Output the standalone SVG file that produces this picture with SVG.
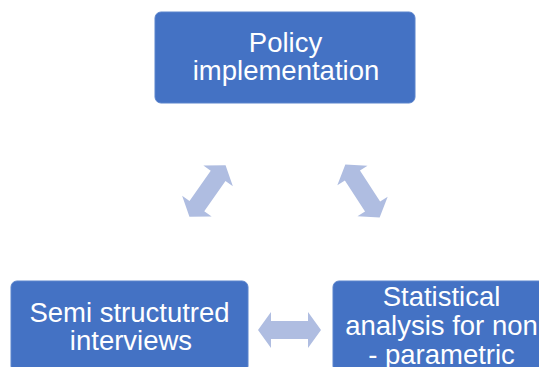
<svg xmlns="http://www.w3.org/2000/svg" width="539" height="367" viewBox="0 0 539 367">
  <style>
    .box { fill: #4472C4; stroke: #5B84CC; stroke-width: 1; }
    .lbl { font-family: "Liberation Sans", Arial, sans-serif; font-size: 27.5px; fill: #FFFFFF; text-anchor: middle; }
    .arrow { fill: #AFBDE1; }
  </style>
  <defs>
    <!-- double-headed block arrow, centred on the origin, pointing along x -->
    <path id="dbl" d="M -31.5 0 L -18.5 -18 L -18.5 -9 L 18.5 -9 L 18.5 -18 L 31.5 0 L 18.5 18 L 18.5 9 L -18.5 9 L -18.5 18 Z"/>
  </defs>
  <rect width="539" height="367" fill="#FFFFFF"/>

  <g id="connectors">
    <use href="#dbl" class="arrow" transform="translate(207.5 191) rotate(-55)"/>
    <use href="#dbl" class="arrow" transform="translate(362.5 191) rotate(57)"/>
    <use href="#dbl" class="arrow" transform="translate(289.5 330)"/>
  </g>

  <g id="policy">
    <rect class="box" x="155" y="12" width="260" height="91" rx="6"/>
    <text class="lbl" x="285.5" y="52">Policy</text>
    <text class="lbl" x="286" y="80">implementation</text>
  </g>

  <g id="interviews">
    <rect class="box" x="11" y="281" width="237" height="91" rx="6"/>
    <text class="lbl" x="129.5" y="322">Semi structutred</text>
    <text class="lbl" x="131" y="350">interviews</text>
  </g>

  <g id="statistics">
    <rect class="box" x="333" y="281" width="237" height="91" rx="6"/>
    <text class="lbl" x="441.5" y="306">Statistical</text>
    <text class="lbl" x="441.5" y="335">analysis for non</text>
    <text class="lbl" x="441.5" y="364">- parametric</text>
  </g>
</svg>
